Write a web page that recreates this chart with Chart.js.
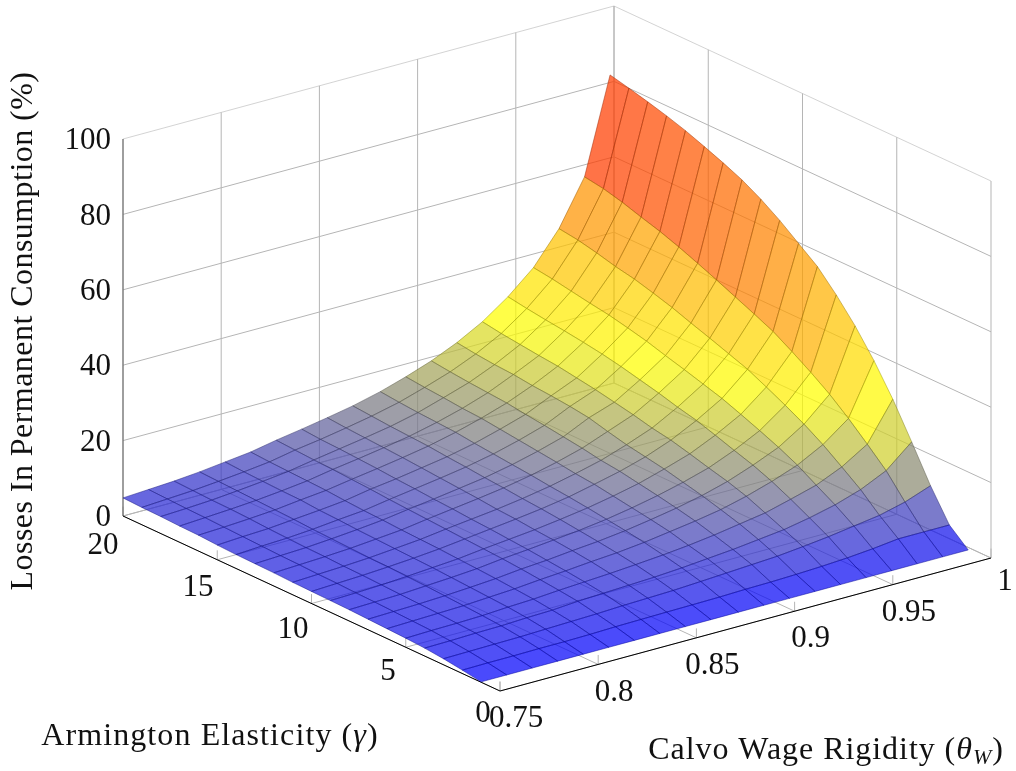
<!DOCTYPE html>
<html>
<head>
<meta charset="utf-8">
<title>Losses in permanent consumption</title>
<script src="https://cdn.jsdelivr.net/npm/chart.js@4/dist/chart.umd.min.js"></script>
<style>
    html, body { margin: 0; padding: 0; background: #fff; }
    canvas { display: block; }
</style>
</head>
<body>
<canvas id="chart" width="1016" height="771"></canvas>
<script>
// Axis ticks
const thetaTicks = [0.75, 0.8, 0.85, 0.9, 0.95, 1];
const thetaTickLabels = ["0.75", "0.8", "0.85", "0.9", "0.95", "1"];
const gammaTicks = [0, 5, 10, 15, 20];
const gammaTickLabels = ["0", "5", "10", "15", "20"];
const lossTicks = [0, 20, 40, 60, 80, 100];
const lossTickLabels = ["0", "20", "40", "60", "80", "100"];

// Surface grid
const thetas = [0.75, 0.763, 0.776, 0.789, 0.802, 0.815, 0.828, 0.841, 0.854, 0.867,
                0.881, 0.894, 0.907, 0.92, 0.933, 0.946, 0.959, 0.972, 0.985, 0.998];
const gammas = [20, 19, 18, 17, 16, 15, 14, 13, 12, 11, 10, 9, 8, 7, 6, 5, 4, 3, 2, 1];

// One row per theta, values follow the gammas list
const losses = [
    [4.8, 4.6, 4.5, 4.3, 4.2, 3.9, 3.7, 3.6, 3.5, 3.3, 3.2, 3.1, 3.0, 2.8, 2.6, 2.4, 2.1, 1.6, 0.9, 0.1],
    [5.2, 5.0, 4.8, 4.7, 4.5, 4.3, 4.1, 3.9, 3.8, 3.6, 3.5, 3.3, 3.2, 3.0, 2.8, 2.6, 2.2, 1.7, 1.0, 0.1],
    [5.6, 5.4, 5.2, 5.1, 4.9, 4.6, 4.4, 4.2, 4.1, 3.9, 3.8, 3.6, 3.4, 3.2, 3.0, 2.7, 2.4, 1.8, 1.0, 0.1],
    [6.2, 6.0, 5.8, 5.6, 5.4, 5.2, 4.9, 4.7, 4.5, 4.3, 4.2, 4.0, 3.8, 3.5, 3.2, 2.9, 2.5, 1.9, 1.1, 0.1],
    [7.0, 6.7, 6.5, 6.3, 6.2, 5.8, 5.6, 5.3, 5.1, 4.9, 4.7, 4.5, 4.2, 3.9, 3.6, 3.3, 2.8, 2.1, 1.1, 0.1],
    [7.8, 7.5, 7.3, 7.1, 6.9, 6.5, 6.2, 6.0, 5.7, 5.5, 5.3, 5.0, 4.7, 4.4, 4.0, 3.6, 3.0, 2.3, 1.2, 0.1],
    [9.1, 8.8, 8.5, 8.3, 8.0, 7.7, 7.3, 7.0, 6.7, 6.4, 6.1, 5.8, 5.5, 5.1, 4.6, 4.1, 3.5, 2.5, 1.4, 0.1],
    [10.2, 9.8, 9.6, 9.3, 9.0, 8.6, 8.3, 7.9, 7.6, 7.2, 6.9, 6.5, 6.1, 5.6, 5.1, 4.5, 3.8, 2.8, 1.5, 0.1],
    [11.4, 11.0, 10.7, 10.4, 10.1, 9.7, 9.3, 8.9, 8.5, 8.0, 7.7, 7.2, 6.8, 6.3, 5.7, 4.9, 4.1, 3.0, 1.6, 0.1],
    [12.7, 12.3, 11.9, 11.6, 11.3, 10.8, 10.4, 9.9, 9.5, 9.0, 8.6, 8.1, 7.5, 6.9, 6.2, 5.4, 4.4, 3.2, 1.7, 0.1],
    [14.5, 14.0, 13.6, 13.3, 13.0, 12.4, 11.9, 11.4, 10.9, 10.3, 9.8, 9.2, 8.5, 7.8, 7.0, 6.0, 4.9, 3.6, 1.8, 0.1],
    [16.6, 16.1, 15.7, 15.2, 14.9, 14.3, 13.7, 13.1, 12.5, 11.8, 11.3, 10.5, 9.7, 8.9, 8.0, 6.7, 5.5, 4.0, 2.0, 0.1],
    [19.0, 18.4, 17.9, 17.5, 17.1, 16.4, 15.8, 15.1, 14.4, 13.5, 12.9, 12.0, 11.1, 10.1, 9.0, 7.6, 6.1, 4.4, 2.1, 0.1],
    [22.0, 21.3, 20.8, 20.5, 19.9, 19.5, 19.0, 18.3, 17.0, 15.8, 14.9, 14.0, 12.8, 11.6, 10.2, 8.7, 6.9, 4.8, 2.3, 0.1],
    [25.7, 24.9, 24.3, 23.7, 23.2, 22.4, 21.6, 20.6, 19.6, 18.4, 17.5, 16.2, 14.8, 13.5, 11.9, 9.8, 7.7, 5.5, 2.6, 0.1],
    [30.5, 29.7, 29.0, 28.4, 27.7, 26.9, 25.9, 24.7, 23.5, 22.1, 20.9, 19.3, 17.6, 16.0, 14.0, 11.6, 9.0, 6.3, 3.0, 0.1],
    [36.4, 35.7, 34.8, 33.9, 33.1, 32.0, 30.8, 29.3, 27.9, 26.4, 24.9, 23.0, 21.0, 18.9, 16.5, 13.5, 10.6, 7.3, 3.6, 0.1],
    [44.9, 44.2, 43.1, 41.8, 40.8, 39.4, 37.9, 36.1, 34.4, 32.6, 30.8, 28.4, 25.9, 23.2, 20.1, 16.5, 12.8, 8.3, 4.4, 0.1],
    [56.8, 56.0, 54.7, 53.1, 51.6, 49.8, 47.8, 45.7, 43.5, 41.3, 39.0, 36.0, 32.8, 29.3, 25.2, 20.7, 16.0, 10.0, 4.4, 0.1],
    [82.0, 80.8, 79.5, 78.1, 76.5, 74.6, 72.6, 70.4, 67.6, 64.3, 60.5, 56.7, 51.5, 45.6, 38.7, 30.8, 21.8, 12.5, 4.4, 0.1]
];

const colormap = [[0, 0, 255], [255, 255, 0], [255, 128, 0], [255, 0, 0]];
const surfaceAlpha = 0.72;
const serif = '"Liberation Serif", serif';

// Oblique view of the box: theta runs up to the right, gamma runs down to the right
function project(theta, gamma, loss) {
    const a = (theta - 0.75) / 0.25;
    const b = (20 - gamma) / 20;
    return {
        x: 123 + a * 491 + b * 377,
        y: 516 - a * 133 + b * 175 - loss * 3.77
    };
}

function mapColor(loss, min, max) {
    const t = (loss - min) / (max - min) * (colormap.length - 1);
    const n = Math.min(Math.floor(t), colormap.length - 2);
    const f = t - n;
    return colormap[n].map((c, j) => c + (colormap[n + 1][j] - c) * f);
}

function rgba(c, a) {
    return `rgba(${c.map(Math.round).join(",")},${a})`;
}

function lineDataset(from, to, color, width) {
    return {
        data: [from, to],
        showLine: true,
        fill: false,
        pointRadius: 0,
        borderColor: color,
        borderWidth: width
    };
}

const allLosses = losses.flat();
const lossMin = Math.min(...allLosses);
const lossMax = Math.max(...allLosses);

const datasets = [];

// Facets, nearest first because dataset 0 is painted last
for (let i = 0; i < thetas.length - 1; i++) {
    for (let k = gammas.length - 2; k >= 0; k--) {
        const corners = [[i, k], [i + 1, k], [i + 1, k + 1], [i, k + 1], [i, k]];
        const mean = (losses[i][k] + losses[i + 1][k] + losses[i + 1][k + 1] + losses[i][k + 1]) / 4;
        const color = mapColor(mean, lossMin, lossMax);
        datasets.push({
            data: corners.map(([a, b]) => project(thetas[a], gammas[b], losses[a][b])),
            showLine: true,
            fill: "shape",
            pointRadius: 0,
            backgroundColor: rgba(color, surfaceAlpha),
            borderColor: rgba(color.map(c => c * 0.62), 0.55),
            borderWidth: 0.9,
            borderJoinStyle: "round"
        });
    }
}

// Front axis lines
datasets.push(lineDataset(project(0.75, 20, 0), project(0.75, 0, 0), "#000", 1));
datasets.push(lineDataset(project(0.75, 0, 0), project(1, 0, 0), "#000", 1));
datasets.push(lineDataset(project(0.75, 20, 0), project(0.75, 20, 100), "#555", 0.9));

// Grid on the floor and the two back walls
const gridColor = "#b5b5b5";
for (const z of lossTicks) {
    const width = z === 100 ? 0.6 : 1;
    datasets.push(lineDataset(project(0.75, 20, z), project(1, 20, z), gridColor, width));
    datasets.push(lineDataset(project(1, 20, z), project(1, 0, z), gridColor, width));
}
for (const t of thetaTicks) {
    datasets.push(lineDataset(project(t, 20, 0), project(t, 20, 100), gridColor, 1));
    datasets.push(lineDataset(project(t, 0, 0), project(t, 20, 0), gridColor, 1));
    datasets.push(lineDataset(project(t, 0, 0), project(t, 0, 2.5), gridColor, 1));
}
for (const g of gammaTicks) {
    datasets.push(lineDataset(project(1, g, 0), project(1, g, 100), gridColor, 1));
    datasets.push(lineDataset(project(0.75, g, 0), project(1, g, 0), gridColor, 1));
    datasets.push(lineDataset(project(0.75, g, 0), project(0.75, g, 2.5), gridColor, 1));
}

// Draws text runs one after the other, centred on the given point
function drawRuns(ctx, runs, x, y) {
    let total = 0;
    for (const run of runs) {
        ctx.font = run.font;
        total += ctx.measureText(run.text).width;
    }
    let pos = x - total / 2;
    for (const run of runs) {
        ctx.font = run.font;
        ctx.fillText(run.text, pos, y + (run.drop || 0));
        pos += ctx.measureText(run.text).width;
    }
}

const boxLabels = {
    id: "boxLabels",
    afterDraw(chart) {
        const { ctx, scales } = chart;
        const at = p => ({ x: scales.x.getPixelForValue(p.x), y: scales.y.getPixelForValue(p.y) });
        ctx.save();
        ctx.fillStyle = "#111";
        ctx.font = `31px ${serif}`;
        ctx.textBaseline = "middle";

        ctx.textAlign = "right";
        lossTicks.forEach((z, n) => {
            const p = at(project(0.75, 20, z));
            ctx.fillText(lossTickLabels[n], p.x - 12, p.y + 2);
        });

        ctx.textAlign = "center";
        thetaTicks.forEach((t, n) => {
            const p = at(project(t, 0, 0));
            if (t === 1) {
                ctx.fillText(thetaTickLabels[n], p.x + 14, p.y + 24);
            } else {
                ctx.fillText(thetaTickLabels[n], p.x + 16, p.y + 28);
            }
        });
        gammaTicks.forEach((g, n) => {
            const p = at(project(0.75, g, 0));
            ctx.fillText(gammaTickLabels[n], p.x - 17 - g * 0.15, p.y + 23 + g * 0.33);
        });

        const textFont = `32px ${serif}`;
        const mathFont = `italic 32px ${serif}`;
        const subFont = `italic 22px ${serif}`;
        ctx.textAlign = "left";
        ctx.letterSpacing = "1.1px";
        drawRuns(ctx, [
            { text: "Armington Elasticity (", font: textFont },
            { text: "γ", font: mathFont },
            { text: ")", font: textFont }
        ], 210, 737);
        ctx.letterSpacing = "0.95px";
        drawRuns(ctx, [
            { text: "Calvo Wage Rigidity (", font: textFont },
            { text: "θ", font: mathFont },
            { text: "W", font: subFont, drop: 7 },
            { text: ")", font: textFont }
        ], 826, 751);

        ctx.letterSpacing = "0.45px";
        ctx.translate(24, 331);
        ctx.rotate(-Math.PI / 2);
        ctx.textAlign = "center";
        ctx.font = textFont;
        ctx.fillText("Losses In Permanent Consumption (%)", 0, 0);
        ctx.restore();
    }
};

new Chart(document.getElementById("chart"), {
    type: "scatter",
    data: { datasets },
    plugins: [boxLabels],
    options: {
        responsive: false,
        animation: false,
        layout: { padding: 0 },
        plugins: {
            legend: { display: false },
            tooltip: { enabled: false }
        },
        events: [],
        scales: {
            x: { type: "linear", min: 0, max: 1016, display: false },
            y: { type: "linear", min: 0, max: 771, reverse: true, display: false }
        }
    }
});
</script>
</body>
</html>
